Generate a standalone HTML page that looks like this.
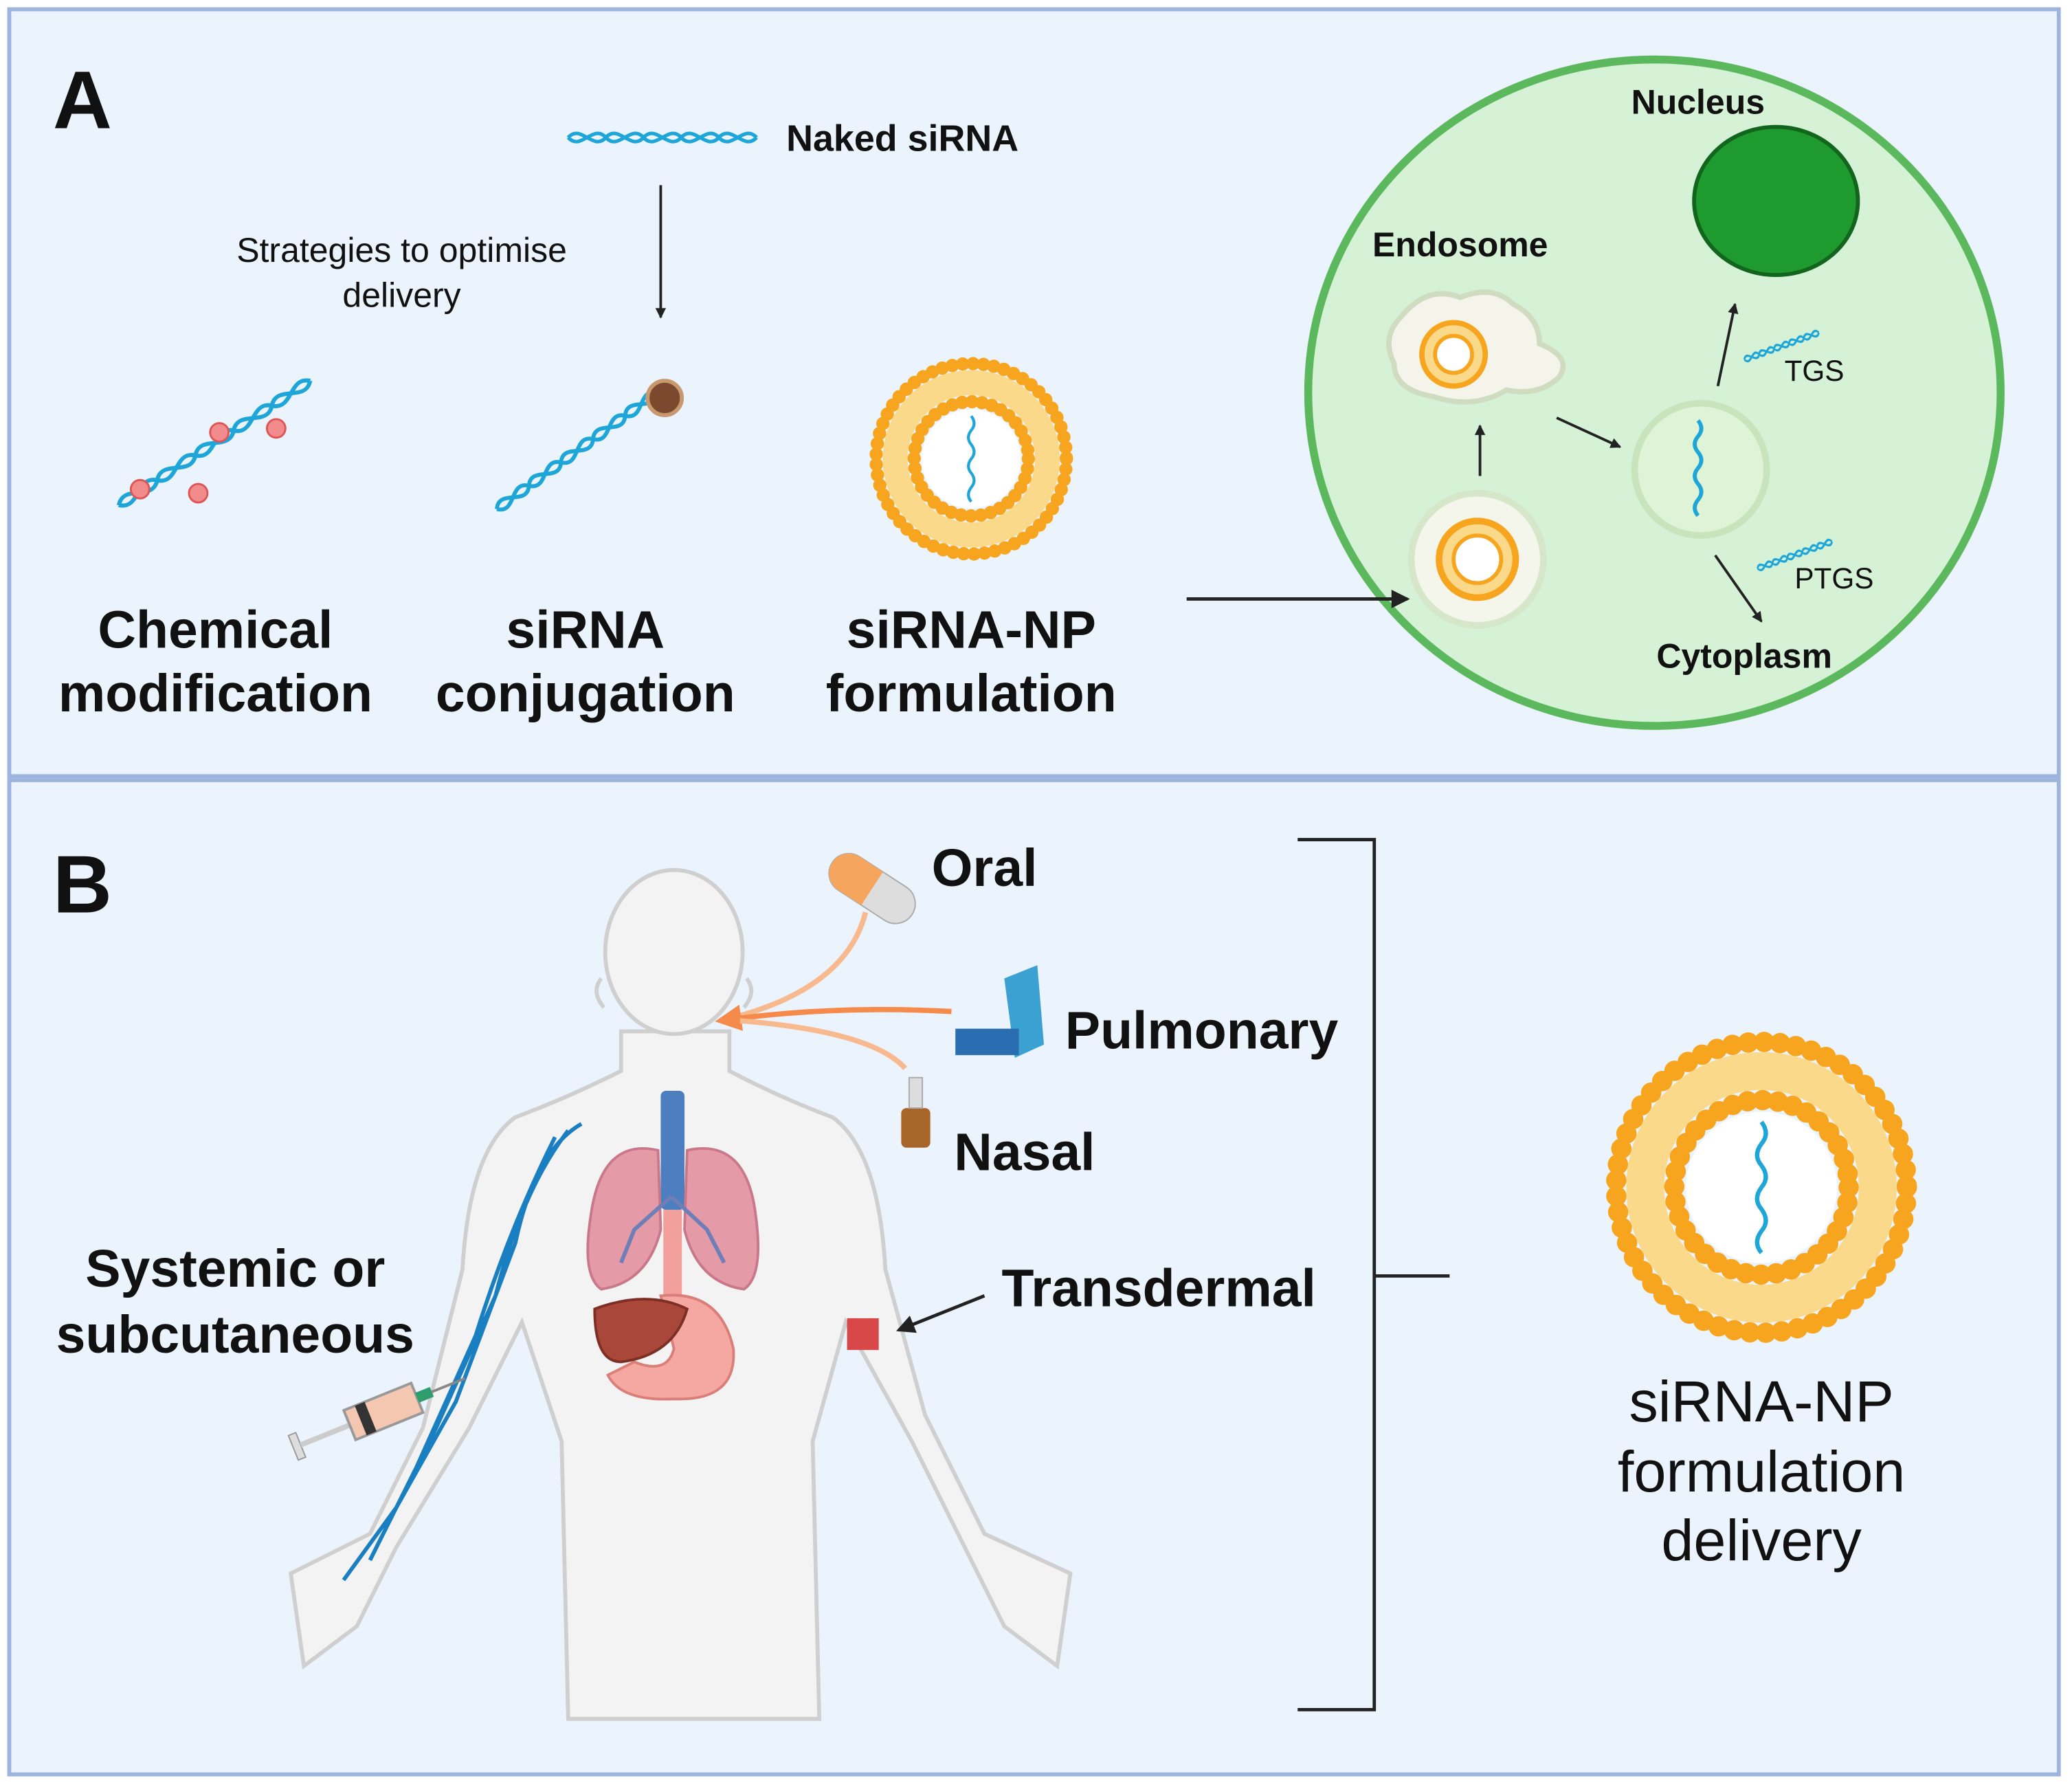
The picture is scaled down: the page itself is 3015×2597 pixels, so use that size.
<!DOCTYPE html>
<html><head><meta charset="utf-8"><style>
html,body{margin:0;padding:0;background:#fff}
svg{display:block}
text{font-family:"Liberation Sans",sans-serif}
</style></head><body>
<svg width="3015" height="2597" viewBox="0 0 1568 1350" preserveAspectRatio="none" xmlns="http://www.w3.org/2000/svg">
<defs>
<marker id="ah" markerWidth="8" markerHeight="8" refX="7" refY="4" orient="auto" markerUnits="userSpaceOnUse" viewBox="0 0 8 8"><path d="M0,0 L8,4 L0,8 z" fill="#222"/></marker>
<marker id="ahb" markerWidth="14" markerHeight="14" refX="12" refY="7" orient="auto" markerUnits="userSpaceOnUse" viewBox="0 0 14 14"><path d="M0,0 L14,7 L0,14 z" fill="#222"/></marker>
<marker id="aho" markerWidth="20" markerHeight="20" refX="16" refY="10" orient="auto" markerUnits="userSpaceOnUse" viewBox="0 0 20 20"><path d="M0,0 L20,10 L0,20 z" fill="#f58a4b"/></marker>
<g id="np">
<circle r="100" fill="none" stroke="#f7a51e" stroke-width="14" stroke-dasharray="0 11" stroke-linecap="round"/>
<circle r="80" fill="none" stroke="#fbd98a" stroke-width="26"/>
<circle r="60" fill="none" stroke="#f7a51e" stroke-width="14" stroke-dasharray="0 10.5" stroke-linecap="round"/>
<circle r="52" fill="#fff"/>
<path d="M0,-45 q6,8 0,15 q-6,8 0,15 q6,8 0,15 q-6,8 0,15 q6,8 0,15 q-6,8 0,15" fill="none" stroke="#1fa6d8" stroke-width="3"/>
</g>
<g id="dna">
<path d="M0,0 c10,-12 20,12 30,0 c10,-12 20,12 30,0 c10,-12 20,12 30,0 c10,-12 20,12 30,0 c10,-12 20,12 30,0" fill="none" stroke="#1fa6d8" stroke-width="3"/>
<path d="M0,0 c10,12 20,-12 30,0 c10,12 20,-12 30,0 c10,12 20,-12 30,0 c10,12 20,-12 30,0 c10,12 20,-12 30,0" fill="none" stroke="#1fa6d8" stroke-width="3"/>
</g>
</defs>
<rect x="0" y="0" width="1568" height="1350" fill="#fff"/>
<rect x="7" y="7" width="1551" height="580" fill="#ebf4fc" stroke="#9db4dc" stroke-width="3"/>
<rect x="7" y="590" width="1551" height="752" fill="#ebf4fc" stroke="#9db4dc" stroke-width="3"/>

<!-- Panel A -->
<text x="40" y="97" font-size="62" font-weight="bold" fill="#111">A</text>
<use href="#dna" transform="translate(430,104) scale(0.95,0.9)"/>
<text x="595" y="114" font-size="28" font-weight="bold" fill="#111">Naked siRNA</text>
<line x1="500" y1="140" x2="500" y2="240" stroke="#222" stroke-width="2" marker-end="url(#ah)"/>
<text x="304" y="198" font-size="26" text-anchor="middle" fill="#111">Strategies to optimise</text>
<text x="304" y="232" font-size="26" text-anchor="middle" fill="#111">delivery</text>

<use href="#dna" transform="translate(90,382) rotate(-33) scale(1.15,1)"/>
<circle cx="106" cy="370" r="7" fill="#f28b8b" stroke="#d55" stroke-width="1.5"/>
<circle cx="150" cy="373" r="7" fill="#f28b8b" stroke="#d55" stroke-width="1.5"/>
<circle cx="166" cy="327" r="7" fill="#f28b8b" stroke="#d55" stroke-width="1.5"/>
<circle cx="209" cy="324" r="7" fill="#f28b8b" stroke="#d55" stroke-width="1.5"/>
<use href="#dna" transform="translate(376,385) rotate(-36) scale(1.0,1)"/>
<circle cx="503" cy="301" r="13" fill="#7b4a2e" stroke="#c8996f" stroke-width="3"/>
<use href="#np" transform="translate(735,347) scale(0.72)"/>

<text x="163" y="490" font-size="40" font-weight="bold" text-anchor="middle" fill="#111">Chemical</text>
<text x="163" y="538" font-size="40" font-weight="bold" text-anchor="middle" fill="#111">modification</text>
<text x="443" y="490" font-size="40" font-weight="bold" text-anchor="middle" fill="#111">siRNA</text>
<text x="443" y="538" font-size="40" font-weight="bold" text-anchor="middle" fill="#111">conjugation</text>
<text x="735" y="490" font-size="40" font-weight="bold" text-anchor="middle" fill="#111">siRNA-NP</text>
<text x="735" y="538" font-size="40" font-weight="bold" text-anchor="middle" fill="#111">formulation</text>

<!-- Cell -->
<ellipse cx="1252" cy="297" rx="262" ry="252" fill="#d6f2d6" stroke="#5cb85c" stroke-width="6"/>
<line x1="898" y1="453" x2="1065" y2="453" stroke="#222" stroke-width="2.5" marker-end="url(#ahb)"/>
<ellipse cx="1344" cy="152" rx="62" ry="56" fill="#1f9a2f" stroke="#12651c" stroke-width="3"/>
<text x="1285" y="86" font-size="26" font-weight="bold" text-anchor="middle" fill="#111">Nucleus</text>
<text x="1105" y="194" font-size="26" font-weight="bold" text-anchor="middle" fill="#111">Endosome</text>
<path d="M1060,240 q20,-25 45,-15 q25,-10 40,5 q20,10 20,30 q25,10 15,25 q-15,15 -40,10 q-25,15 -55,5 q-30,-5 -30,-25 q-10,-20 5,-35 z" fill="#f4f4ea" stroke="#cfdcc0" stroke-width="4"/>
<circle cx="1100" cy="268" r="24" fill="#fbd98a" stroke="#f7a51e" stroke-width="4"/>
<circle cx="1100" cy="268" r="14" fill="#fff" stroke="#f7a51e" stroke-width="3"/>
<circle cx="1118" cy="423" r="50" fill="#f4f6ec" stroke="#d5e6c9" stroke-width="5"/>
<circle cx="1118" cy="423" r="29" fill="#fbd98a" stroke="#f7a51e" stroke-width="5"/>
<circle cx="1118" cy="423" r="18" fill="#fff" stroke="#f7a51e" stroke-width="3"/>
<circle cx="1287" cy="355" r="50" fill="#dff3d6" stroke="#c8e4bd" stroke-width="5"/>
<path d="M1285,318 q5,6 0,12 q-5,6 0,12 q5,6 0,12 q-5,6 0,12 q5,6 0,12 q-5,6 0,12" fill="none" stroke="#1fa6d8" stroke-width="3"/>
<use href="#dna" transform="translate(1320,272) rotate(-20) scale(0.4,0.6)"/>
<use href="#dna" transform="translate(1330,430) rotate(-20) scale(0.4,0.6)"/>
<text x="1373" y="288" font-size="22" text-anchor="middle" fill="#111">TGS</text>
<text x="1388" y="445" font-size="22" text-anchor="middle" fill="#111">PTGS</text>
<text x="1320" y="505" font-size="26" font-weight="bold" text-anchor="middle" fill="#111">Cytoplasm</text>
<line x1="1120" y1="360" x2="1120" y2="322" stroke="#222" stroke-width="2" marker-end="url(#ah)"/>
<line x1="1178" y1="316" x2="1226" y2="338" stroke="#222" stroke-width="2" marker-end="url(#ah)"/>
<line x1="1300" y1="292" x2="1313" y2="230" stroke="#222" stroke-width="2" marker-end="url(#ah)"/>
<line x1="1298" y1="420" x2="1333" y2="470" stroke="#222" stroke-width="2" marker-end="url(#ah)"/>

<!-- Panel B -->
<text x="40" y="690" font-size="62" font-weight="bold" fill="#111">B</text>
<path d="M470,780 L470,810 Q430,830 390,845 Q355,870 350,960 L320,1080 L280,1160 L220,1190 L230,1260 L270,1230 L300,1170 L355,1080 L395,1000 L425,1090 L430,1300 L620,1300 L615,1090 L640,1000 L690,1090 L730,1170 L760,1230 L800,1260 L810,1190 L745,1160 L700,1070 L670,960 Q665,870 630,845 Q590,830 552,810 L552,780 Z" fill="#f3f3f3" stroke="#cfcfcf" stroke-width="3"/>
<ellipse cx="510" cy="720" rx="52" ry="62" fill="#f3f3f3" stroke="#cfcfcf" stroke-width="3"/>
<path d="M455,740 q-8,10 2,22 M565,740 q8,10 -2,22" fill="none" stroke="#cfcfcf" stroke-width="3"/>
<path d="M440,850 Q405,870 390,940 L345,1060 L300,1140 L260,1195 M430,855 Q395,900 375,980 L330,1080 L280,1180 M420,860 Q385,930 360,1010 L315,1110" fill="none" stroke="#1a7fc1" stroke-width="3"/>
<rect x="500" y="825" width="18" height="90" rx="4" fill="#4d7ec0"/>
<path d="M498,870 Q455,860 447,920 Q440,965 455,975 Q490,970 500,930 Z" fill="#e59aa8" stroke="#c9788a" stroke-width="2"/>
<path d="M520,870 Q565,860 572,920 Q578,965 563,975 Q528,970 518,930 Z" fill="#e59aa8" stroke="#c9788a" stroke-width="2"/>
<path d="M508,905 L480,930 L470,955 M508,905 L535,930 L548,955" fill="none" stroke="#6e7fb8" stroke-width="3"/>
<rect x="502" y="915" width="14" height="70" fill="#f29e9a"/>
<path d="M500,980 Q545,975 555,1020 Q558,1060 510,1058 Q470,1060 460,1040 L480,1030 Q505,1040 510,1020 Z" fill="#f5a8a1" stroke="#d97f78" stroke-width="2"/>
<path d="M450,990 Q490,975 520,990 Q510,1025 470,1030 Q450,1030 450,990 Z" fill="#a9483a" stroke="#7d2f25" stroke-width="2"/>
<rect x="641" y="997" width="24" height="24" fill="#d94848"/>
<line x1="745" y1="980" x2="680" y2="1006" stroke="#222" stroke-width="2.5" marker-end="url(#ahb)"/>
<g transform="translate(222,1095) rotate(-22)">
<rect x="0" y="-10" width="6" height="20" fill="#ddd" stroke="#999"/>
<rect x="6" y="-2" width="40" height="4" fill="#ccc"/>
<rect x="46" y="-12" width="55" height="24" fill="#f3c7b0" stroke="#999" stroke-width="2"/>
<rect x="55" y="-12" width="8" height="24" fill="#333"/>
<rect x="101" y="-4" width="12" height="8" fill="#2e9e6f"/>
<line x1="113" y1="0" x2="140" y2="0" stroke="#888" stroke-width="2"/>
</g>
<g transform="translate(660,672) rotate(33)">
<rect x="-36" y="-15" width="72" height="30" rx="15" fill="#ddd" stroke="#aaa"/>
<path d="M0,-15 L-21,-15 A15,15 0 0 0 -21,15 L0,15 Z" fill="#f5a55e"/>
</g>
<path d="M760,740 L785,730 L790,790 L768,800 Z" fill="#3ba1d3"/>
<rect x="723" y="778" width="48" height="20" fill="#2a6db0"/>
<rect x="682" y="838" width="22" height="30" rx="4" fill="#a8662b"/>
<rect x="688" y="815" width="10" height="23" fill="#ddd" stroke="#aaa"/>
<path d="M655,690 Q640,750 545,772" fill="none" stroke="#f8b98f" stroke-width="4"/>
<path d="M720,765 Q630,760 545,772" fill="none" stroke="#f58a4b" stroke-width="4" marker-end="url(#aho)"/>
<path d="M685,808 Q660,780 560,772" fill="none" stroke="#f8b98f" stroke-width="4"/>

<text x="705" y="670" font-size="40" font-weight="bold" fill="#111">Oral</text>
<text x="806" y="793" font-size="40" font-weight="bold" fill="#111">Pulmonary</text>
<text x="722" y="885" font-size="40" font-weight="bold" fill="#111">Nasal</text>
<text x="758" y="988" font-size="40" font-weight="bold" fill="#111">Transdermal</text>
<text x="178" y="973" font-size="40" font-weight="bold" text-anchor="middle" fill="#111">Systemic or</text>
<text x="178" y="1023" font-size="40" font-weight="bold" text-anchor="middle" fill="#111">subcutaneous</text>

<path d="M982,635 L1040,635 L1040,1293 L982,1293 M1040,965 L1097,965" fill="none" stroke="#222" stroke-width="2.5"/>
<use href="#np" transform="translate(1333,898) scale(1.1)"/>
<text x="1333" y="1075" font-size="44" text-anchor="middle" fill="#111">siRNA-NP</text>
<text x="1333" y="1128" font-size="44" text-anchor="middle" fill="#111">formulation</text>
<text x="1333" y="1180" font-size="44" text-anchor="middle" fill="#111">delivery</text>
</svg>
</body></html>
